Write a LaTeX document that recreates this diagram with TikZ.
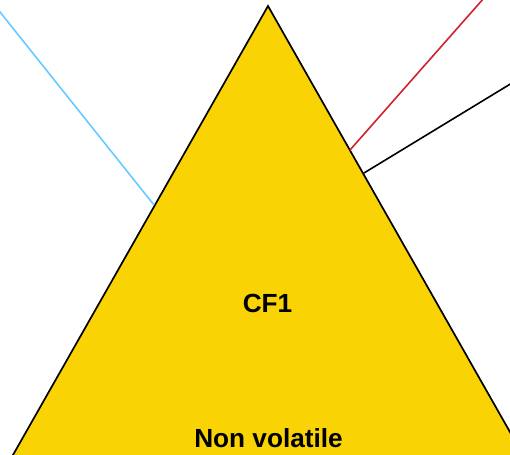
\documentclass[tikz,border=0pt]{standalone}
\usepackage{fontspec}
\setmainfont{Liberation Sans}
\definecolor{cfyellow}{RGB}{250,211,5}
\definecolor{cfblue}{RGB}{102,204,255}
\definecolor{cfred}{RGB}{208,36,44}
\tikzset{
  edgeline/.style={line width=1.6pt},
  lbl/.style={font=\fontsize{26.2}{30}\selectfont\bfseries, anchor=base, inner sep=0pt}
}
\begin{document}
\begin{tikzpicture}[x=1pt,y=-1pt]
\useasboundingbox (0,0) rectangle (510,454);
\clip (0,0) rectangle (510,454);
\fill[white] (0,0) rectangle (510,454);
\coordinate (apex) at (268,6);
\coordinate (bl) at (-16,506);
\coordinate (br) at (552,506);
\filldraw[fill=cfyellow, draw=black, line width=1.7pt, line join=miter] (apex) -- (br) -- (bl) -- cycle;
\coordinate (b0) at (-2,9.5);
\coordinate (b1) at (154,205);
\coordinate (r0) at (484,-2);
\coordinate (r1) at (350,150);
\coordinate (k0) at (512,83);
\coordinate (k1) at (364,173);
\draw[edgeline, cfblue] (b0) -- (b1);
\draw[edgeline, cfred] (r0) -- (r1);
\draw[edgeline, black] (k0) -- (k1);
\node[lbl] (cf) at (267.5,312) {CF1};
\node[lbl] (nv) at (268.5,447) {Non volatile};
\end{tikzpicture}
\end{document}
